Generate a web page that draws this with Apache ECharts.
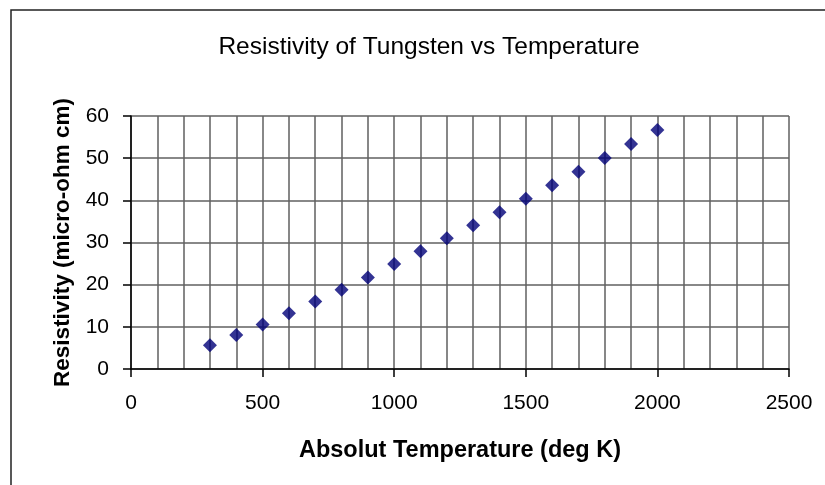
<!DOCTYPE html>
<html>
<head>
<meta charset="utf-8">
<title>Resistivity of Tungsten vs Temperature</title>
<script src="https://cdn.jsdelivr.net/npm/echarts@6/dist/echarts.min.js"></script>
<style>
    html, body { margin: 0; padding: 0; background: #fff; }
    #main { width: 825px; height: 485px; }
</style>
</head>
<body>
<div id="main"></div>
<script>
// temperature in deg K, resistivity in micro-ohm cm
const temps = [300, 400, 500, 600, 700, 800, 900, 1000, 1100, 1200,
               1300, 1400, 1500, 1600, 1700, 1800, 1900, 2000];
const resistivity = [5.65, 8.06, 10.56, 13.23, 16.0, 18.8, 21.7, 24.93, 27.94, 30.98,
                     34.08, 37.19, 40.36, 43.55, 46.78, 50.05, 53.35, 56.67];

const font = '"Liberation Sans", Arial, sans-serif';

let points = [];
for (let i = 0; i < temps.length; i++) {
    points.push([temps[i], resistivity[i]]);
}

const gridLine = { show: true, lineStyle: { color: '#606060', width: 1.5 } };

let option = {
    backgroundColor: '#fff',
    animation: false,
    title: {
        text: 'Resistivity of Tungsten vs Temperature',
        left: 424,
        top: 30,
        textAlign: 'center',
        textStyle: { fontFamily: font, fontSize: 24.5, fontWeight: 'normal', color: '#000' }
    },
    graphic: [{
        type: 'rect',
        shape: { x: 11, y: 10, width: 900, height: 600 },
        style: { fill: 'none', stroke: '#222', lineWidth: 1.5 },
        silent: true
    }],
    grid: { left: 131, right: 36, top: 116, bottom: 116 },
    xAxis: {
        type: 'value',
        min: 0,
        max: 2500,
        interval: 500,
        name: 'Absolut Temperature (deg K)',
        nameLocation: 'middle',
        nameGap: 70,
        nameTextStyle: { fontFamily: font, fontSize: 23.5, fontWeight: 'bold', color: '#000' },
        axisLine: { show: true, onZero: false, lineStyle: { color: '#000', width: 1.5 } },
        axisTick: { show: true, length: 8, lineStyle: { color: '#000', width: 1.5 } },
        axisLabel: {
            fontFamily: font, fontSize: 21, color: '#000', margin: 24,
            formatter: function (v) { return String(v); }
        },
        splitLine: gridLine,
        minorTick: { show: false, splitNumber: 5 },
        minorSplitLine: gridLine
    },
    yAxis: {
        type: 'value',
        min: 0,
        max: 60,
        interval: 10,
        name: 'Resistivity (micro-ohm cm)',
        nameLocation: 'middle',
        nameGap: 57,
        nameTextStyle: { fontFamily: font, fontSize: 22.5, fontWeight: 'bold', color: '#000' },
        axisLine: { show: true, lineStyle: { color: '#000', width: 1.5 } },
        axisTick: { show: true, length: 8, lineStyle: { color: '#000', width: 1.5 } },
        axisLabel: { fontFamily: font, fontSize: 21, color: '#000', margin: 22 },
        splitLine: gridLine
    },
    series: [{
        type: 'scatter',
        data: points,
        symbol: 'diamond',
        symbolSize: [14, 14],
        itemStyle: { color: '#000078' }
    }]
};

let myChart = echarts.init(document.getElementById('main'));
myChart.setOption(option);
</script>
</body>
</html>
